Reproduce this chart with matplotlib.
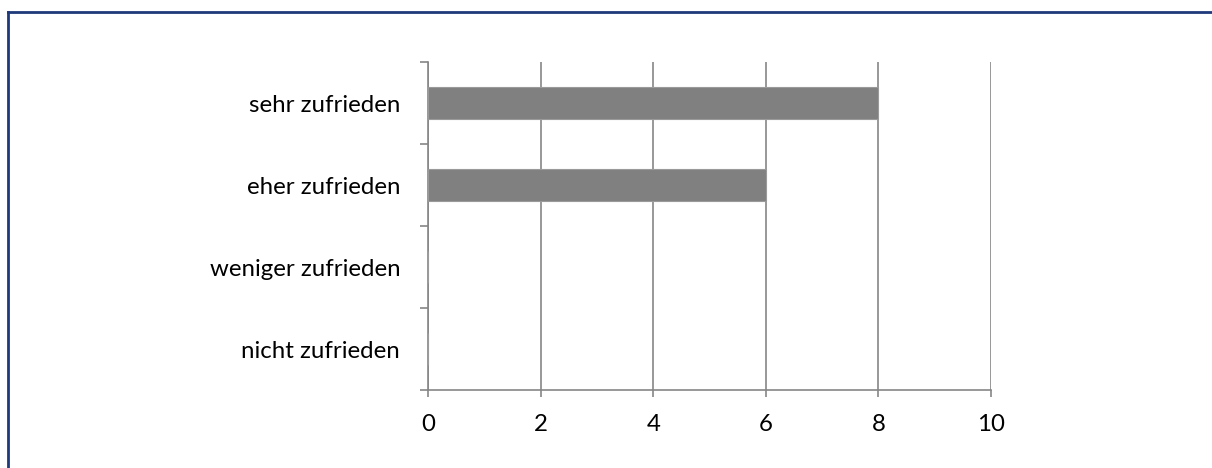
import numpy as np
import matplotlib
matplotlib.use("Agg")
import matplotlib.pyplot as plt
from matplotlib.lines import Line2D

categories = ["nicht zufrieden", "weniger zufrieden", "eher zufrieden", "sehr zufrieden"]
values = [0, 0, 6, 8]
xticks = [0, 2, 4, 6, 8, 10]

plt.rcParams['font.family'] = ['Lato', 'DejaVu Sans']

fig = plt.figure(figsize=(12.12, 4.68), dpi=100)
ax = fig.add_axes([428 / 1212, 1 - 390 / 468, (991 - 428) / 1212, (390 - 62) / 468])

gray = "#868686"
pos = np.arange(len(categories))
ax.barh(pos, values, height=0.39, color="#808080", edgecolor="#9a9a9a", linewidth=0.8, zorder=3)

ax.set_xlim(0, 10)
ax.set_ylim(-0.5, len(categories) - 0.5)
ax.set_xticks(xticks)
ax.set_xticklabels([str(t) for t in xticks], fontsize=17.3)
ax.xaxis.grid(True, color=gray, linewidth=1.2, zorder=0)

ax.set_yticks(pos)
ax.set_yticklabels(categories, fontsize=17.3)
ax.set_yticks(np.arange(-0.5, len(categories)), minor=True)
ax.tick_params(axis='y', which='major', length=0, pad=20)
ax.tick_params(axis='y', which='minor', length=5.5, color=gray, width=1.2)
ax.tick_params(axis='x', length=5, color=gray, width=1.2, pad=12.5)

for s in ['top', 'right']:
    ax.spines[s].set_visible(False)
for s in ['left', 'bottom']:
    ax.spines[s].set_color(gray)
    ax.spines[s].set_linewidth(1.2)

# outer chart border (only top and left visible in the crop)
fig.add_artist(Line2D([8 / 1212, 8 / 1212], [0, 1 - 12 / 468], transform=fig.transFigure, color="#1f3a7a", linewidth=2))
fig.add_artist(Line2D([8 / 1212, 1], [1 - 12 / 468, 1 - 12 / 468], transform=fig.transFigure, color="#1f3a7a", linewidth=2))

fig.savefig("out.png", dpi=100)
